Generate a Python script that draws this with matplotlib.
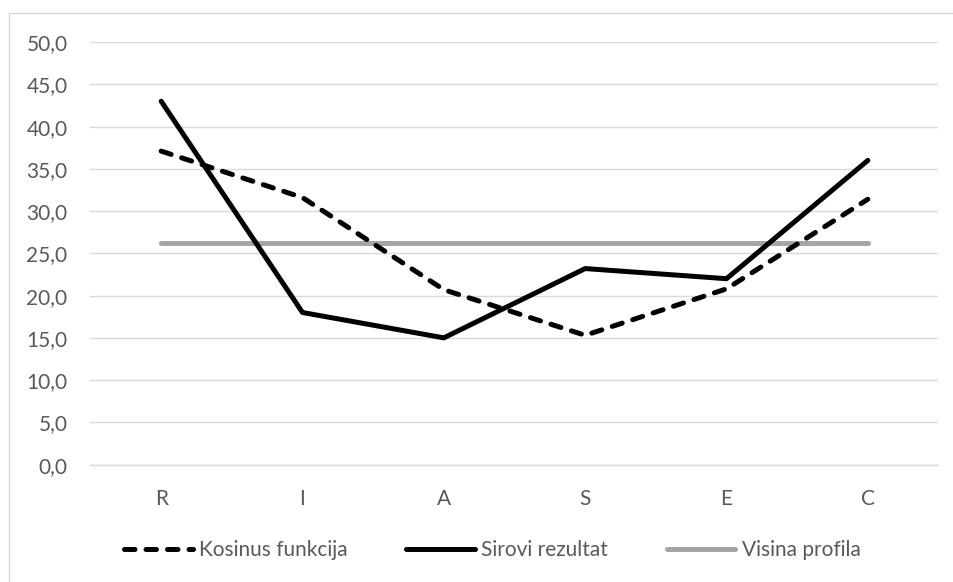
import matplotlib.pyplot as plt
from matplotlib.patches import Rectangle
from matplotlib.ticker import FuncFormatter

plt.rcParams['font.family'] = ['Lato', 'DejaVu Sans']

# Podaci
kategorije = ['R', 'I', 'A', 'S', 'E', 'C']
kosinus_funkcija = [37.1, 31.6, 20.7, 15.3, 20.8, 31.4]
sirovi_rezultat = [43.0, 18.0, 15.0, 23.2, 22.0, 36.0]
visina_profila = [26.2, 26.2, 26.2, 26.2, 26.2, 26.2]

tekst = '#595959'
mreza = '#d9d9d9'

fig = plt.figure(figsize=(9.54, 5.82), dpi=100)
ax = fig.add_axes([90.5 / 954, 117.4 / 582, 848 / 954, 422.5 / 582])

# okvir grafikona
fig.patches.append(Rectangle((9 / 954, -0.01), 1.0, 1 - 12.5 / 582 + 0.01,
                             transform=fig.transFigure, fill=False,
                             edgecolor=mreza, lw=1.0))

x = range(len(kategorije))
ax.plot(x, kosinus_funkcija, color='black', lw=3.6, linestyle=(0, (2.1, 2.2)),
        dash_capstyle='round', solid_joinstyle='round', label='Kosinus funkcija', zorder=3)
ax.plot(x, sirovi_rezultat, color='black', lw=3.6, solid_capstyle='round',
        solid_joinstyle='round', label='Sirovi rezultat', zorder=4)
ax.plot(x, visina_profila, color='#a5a5a5', lw=3.6, solid_capstyle='round',
        label='Visina profila', zorder=2)

ax.set_xlim(-0.5, 5.5)
ax.set_ylim(0, 50)
ax.set_yticks(range(0, 51, 5))
ax.yaxis.set_major_formatter(FuncFormatter(lambda v, p: f'{v:.1f}'.replace('.', ',')))
ax.set_xticks(list(x))
ax.set_xticklabels(kategorije)

ax.grid(axis='y', color=mreza, lw=1.0)
ax.set_axisbelow(True)
for s in ['top', 'right', 'left']:
    ax.spines[s].set_visible(False)
ax.spines['bottom'].set_color(mreza)
ax.spines['bottom'].set_linewidth(1.0)
ax.tick_params(axis='both', length=0, labelsize=15, labelcolor=tekst)
ax.tick_params(axis='y', pad=16.5)
ax.tick_params(axis='x', pad=17.5)

leg = fig.legend(loc='center', bbox_to_anchor=(492.5 / 954, 1 - 550 / 582), ncol=3,
                 frameon=False, fontsize=15, handlelength=3.3,
                 handletextpad=0.3, columnspacing=2.8)
for t in leg.get_texts():
    t.set_color(tekst)

fig.savefig('out.png', dpi=100)
